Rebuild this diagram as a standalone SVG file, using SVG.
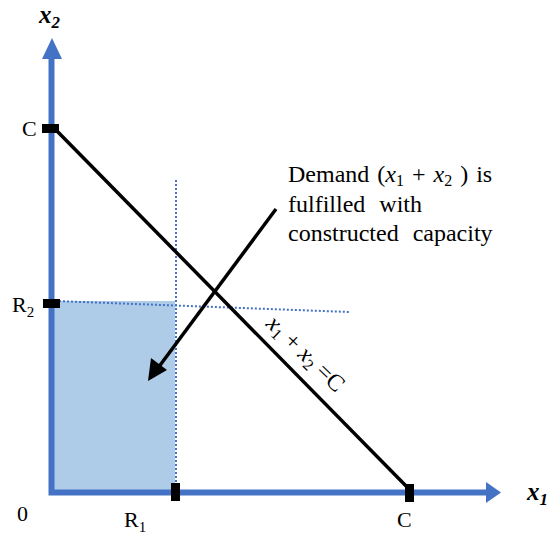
<svg xmlns="http://www.w3.org/2000/svg" width="549" height="541" viewBox="0 0 549 541">
<defs>
<style>
.t{font-family:"Liberation Serif","Times New Roman",serif;font-size:22px;fill:#000}
.big{font-size:24px}
.it{font-style:italic}
.ax{font-weight:bold;font-style:italic;font-size:25px}
.axis{stroke:#4472C4;stroke-width:6;fill:none}
.dot{stroke:#4472C4;stroke-width:2;stroke-dasharray:2,2;fill:none}
.mk{fill:#000}
</style>
</defs>
<rect width="549" height="541" fill="#fff"/>
<g id="feasible-region">
<rect x="54" y="301" width="121" height="189" fill="#AECBE8"/>
</g>
<g id="connectors">
<line class="dot" x1="176" y1="180" x2="176" y2="490"/>
<line class="dot" x1="55" y1="301" x2="349" y2="312"/>
<polyline class="axis" points="51.5,59 51.5,492.5 486,492.5"/>
<polygon fill="#4472C4" points="42,59 62,59 52,38"/>
<polygon fill="#4472C4" points="486,482 486,503 501,492.5"/>
<line x1="55" y1="129" x2="409" y2="489" stroke="#000" stroke-width="3.5"/>
<line x1="276" y1="209" x2="158" y2="368" stroke="#000" stroke-width="3.5"/>
<polygon fill="#000" points="148,381 151,358 167,370"/>
</g>
<g id="markers">
<rect class="mk" x="42" y="124" width="17" height="9"/>
<rect class="mk" x="43" y="299" width="17" height="9"/>
<rect class="mk" x="171" y="483" width="9" height="18"/>
<rect class="mk" x="405" y="484" width="9" height="18"/>
</g>
<g id="labels">
<text class="t" x="22" y="136">C</text>
<text class="t" x="12" y="312">R<tspan font-size="15" dy="5">2</tspan></text>
<text class="t" x="17" y="521">0</text>
<text class="t" x="124" y="527">R<tspan font-size="15" dy="5">1</tspan></text>
<text class="t" x="397" y="527">C</text>
<text class="t ax" x="527" y="500">x<tspan font-size="17" dy="5">1</tspan></text>
<text class="t ax" x="39" y="23">x<tspan font-size="17" dy="5">2</tspan></text>
</g>
<g id="annotation">
<text class="t big" x="288" y="182" word-spacing="2">Demand (<tspan class="it">x</tspan><tspan font-size="16" dy="4">1</tspan><tspan dy="-4"> + </tspan><tspan class="it">x</tspan><tspan font-size="16" dy="4">2</tspan><tspan dy="-4"> ) is</tspan></text>
<text class="t big" x="288" y="212" word-spacing="8">fulfilled with</text>
<text class="t big" x="288" y="241" word-spacing="8">constructed capacity</text>
</g>
<g id="line-label">
<text class="t big" transform="translate(265,325) rotate(44)"><tspan class="it">x</tspan><tspan font-size="16" dy="4">1</tspan><tspan dy="-4"> + </tspan><tspan class="it">x</tspan><tspan font-size="16" dy="4">2</tspan><tspan dy="-4"> =C</tspan></text>
</g>
</svg>
